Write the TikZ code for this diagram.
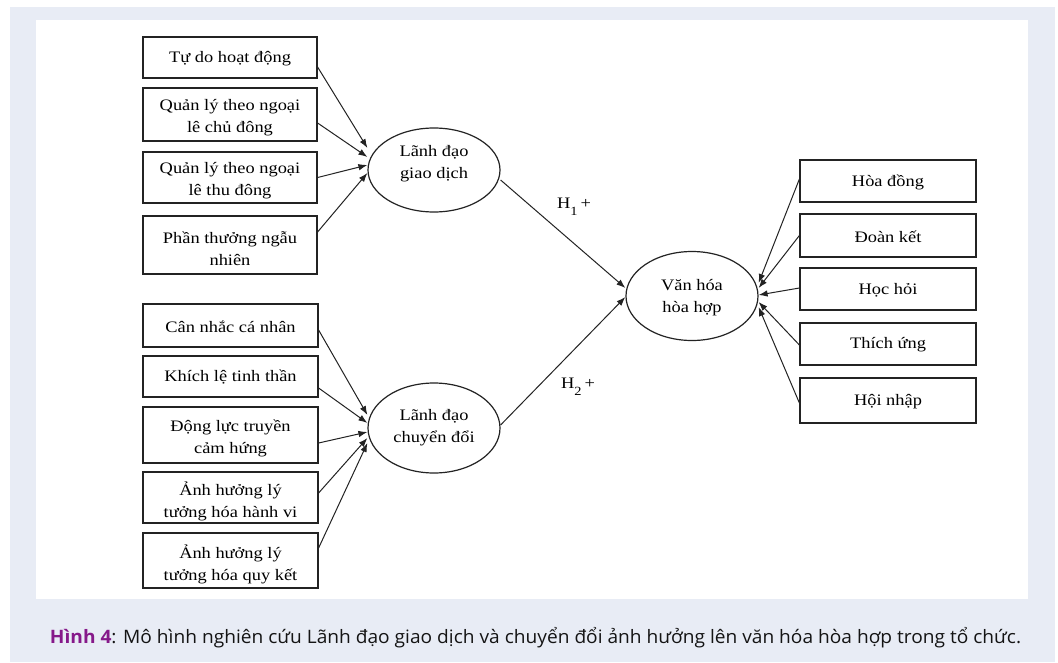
\documentclass[tikz,border=0pt]{standalone}
\usepackage{fontspec}
\usepackage{graphicx}
\setmainfont{Liberation Serif}
\newfontfamily\diafont[FakeStretch=1.15]{Liberation Serif}
\newfontfamily\capfont{Open Sans}
\usetikzlibrary{arrows.meta,shapes.geometric}
\definecolor{bgblue}{RGB}{232,236,245}
\definecolor{capPurple}{RGB}{134,25,138}
\definecolor{capText}{RGB}{20,20,20}
\definecolor{lineCol}{RGB}{35,35,35}
\begin{document}
\begin{tikzpicture}[x=1pt,y=-1pt,
  box/.style={draw=lineCol, line width=1.2pt, rectangle, inner sep=0pt},
  oval/.style={draw=lineCol, line width=1.2pt, ellipse, inner sep=0pt, minimum width=132pt},
  txt/.style={font=\diafont\fontsize{16}{22}\selectfont, align=center, inner sep=0pt, text=black},
  arr/.style={draw=lineCol, line width=1pt, -{Latex[length=9pt,width=6.5pt]}},
]
% background
\fill[white] (0,0) rectangle (1058,662);
\fill[bgblue] (10,7) rectangle (1055,662);
\fill[white] (36,20) rectangle (1028,599);
\useasboundingbox (0,0) rectangle (1058,662);

% left upper boxes
\node[box, minimum width=174pt, minimum height=41pt] (b1) at (230,57.5) {};
\node[box, minimum width=174pt, minimum height=53pt] (b2) at (230,114.5) {};
\node[box, minimum width=174pt, minimum height=51pt] (b3) at (230,177.5) {};
\node[box, minimum width=174pt, minimum height=58pt] (b4) at (230,245) {};
\node[txt] (t1) at ([yshift=-1pt]b1.center) {Tự do hoạt động};
\node[txt] (t2) at ([yshift=-3.5pt]b2.center) {Quản lý theo ngoại\\lê chủ đông};
\node[txt] (t3) at ([yshift=-3.5pt]b3.center) {Quản lý theo ngoại\\lê thu đông};
\node[txt] (t4) at ([yshift=-3.5pt]b4.center) {Phần thưởng ngẫu\\nhiên};

% left lower boxes
\node[box, minimum width=175pt, minimum height=43pt] (b5) at (230.5,325.5) {};
\node[box, minimum width=175pt, minimum height=41pt] (b6) at (230.5,376.5) {};
\node[box, minimum width=175pt, minimum height=56pt] (b7) at (230.5,435) {};
\node[box, minimum width=175pt, minimum height=51pt] (b8) at (230.5,497.5) {};
\node[box, minimum width=175pt, minimum height=55pt] (b9) at (230.5,560.5) {};
\node[txt] (t5) at ([yshift=-1pt]b5.center) {Cân nhắc cá nhân};
\node[txt] (t6) at ([yshift=-1pt]b6.center) {Khích lệ tinh thần};
\node[txt] (t7) at ([yshift=-3.5pt]b7.center) {Động lực truyền\\cảm hứng};
\node[txt] (t8) at ([yshift=-3.5pt]b8.center) {Ảnh hưởng lý\\tưởng hóa hành vi};
\node[txt] (t9) at ([yshift=-3.5pt]b9.center) {Ảnh hưởng lý\\tưởng hóa quy kết};

% right boxes
\node[box, minimum width=176pt, minimum height=42pt] (r1) at (888,181) {};
\node[box, minimum width=176pt, minimum height=43pt] (r2) at (888,235.5) {};
\node[box, minimum width=176pt, minimum height=42pt] (r3) at (888,289) {};
\node[box, minimum width=176pt, minimum height=42pt] (r4) at (888,344) {};
\node[box, minimum width=176pt, minimum height=45pt] (r5) at (888,400.5) {};
\node[txt] (s1) at ([yshift=-1pt]r1.center) {Hòa đồng};
\node[txt] (s2) at ([yshift=-1pt]r2.center) {Đoàn kết};
\node[txt] (s3) at ([yshift=-1pt]r3.center) {Học hỏi};
\node[txt] (s4) at ([yshift=-1pt]r4.center) {Thích ứng};
\node[txt] (s5) at ([yshift=-1pt]r5.center) {Hội nhập};

% ellipses
\node[oval, minimum height=84pt] (e1) at (434,170) {};
\node[oval, minimum height=90pt] (e2) at (434,428) {};
\node[oval, minimum height=89pt] (e3) at (692,296) {};
\node[txt] (et1) at ([yshift=6pt]e1.center) {Lãnh đạo\\giao dịch};
\node[txt] (et2) at (e2.center) {Lãnh đạo\\chuyển đổi};
\node[txt] (et3) at ([yshift=-2pt]e3.center) {Văn hóa\\hòa hợp};

% arrows to e1
\draw[arr] ([yshift=-9.5pt]b1.east) -- ([yshift=22pt]e1.west);
\draw[arr] ([yshift=-8.5pt]b2.east) -- ([yshift=13pt]e1.west);
\draw[arr] (b3.east) -- ([yshift=5pt]e1.west);
\draw[arr] ([yshift=13pt]b4.east) -- ([yshift=-3pt]e1.west);

% arrows to e2
\draw[arr] ([yshift=-4.5pt]b5.east) -- ([yshift=13pt]e2.west);
\draw[arr] ([yshift=-11.5pt]b6.east) -- ([yshift=5pt]e2.west);
\draw[arr] ([yshift=-8pt]b7.east) -- ([yshift=-4pt]e2.west);
\draw[arr] ([yshift=4.5pt]b8.east) -- ([yshift=-10pt]e2.west);
\draw[arr] ([yshift=12.5pt]b9.east) -- ([yshift=-15pt]e2.west);

% H arrows
\draw[arr] ([yshift=-10pt]e1.east) -- ([yshift=8pt]e3.west);
\draw[arr] ([yshift=3pt]e2.east) -- ([yshift=-1pt]e3.west);
\node[txt, anchor=base west] (h1) at (557,208) {H\raisebox{-7pt}{\fontsize{12.5}{12.5}\selectfont 1}\hspace{3pt}+};
\node[txt, anchor=base west] (h2) at (561,388) {H\raisebox{-7pt}{\fontsize{12.5}{12.5}\selectfont 2}\hspace{3pt}+};

% arrows from right boxes
\draw[arr] ([yshift=2pt]r1.west) -- ([yshift=13pt]e3.east);
\draw[arr] (r2.west) -- ([yshift=8pt]e3.east);
\draw[arr] ([yshift=1pt]r3.west) -- ([yshift=1pt]e3.east);
\draw[arr] ([yshift=-1pt]r4.west) -- ([yshift=-6pt]e3.east);
\draw[arr] ([yshift=-2.5pt]r5.west) -- ([yshift=-11pt]e3.east);

% caption
\node[anchor=base, inner sep=0pt] (cap) at (535.5,643)
  {\resizebox{971pt}{\height}{\capfont\fontsize{18.5}{22}\selectfont\color{capText}{\bfseries\color{capPurple}Hình 4}: Mô hình nghiên cứu Lãnh đạo giao dịch và chuyển đổi ảnh hưởng lên văn hóa hòa hợp trong tổ chức.}};
\end{tikzpicture}
\end{document}
